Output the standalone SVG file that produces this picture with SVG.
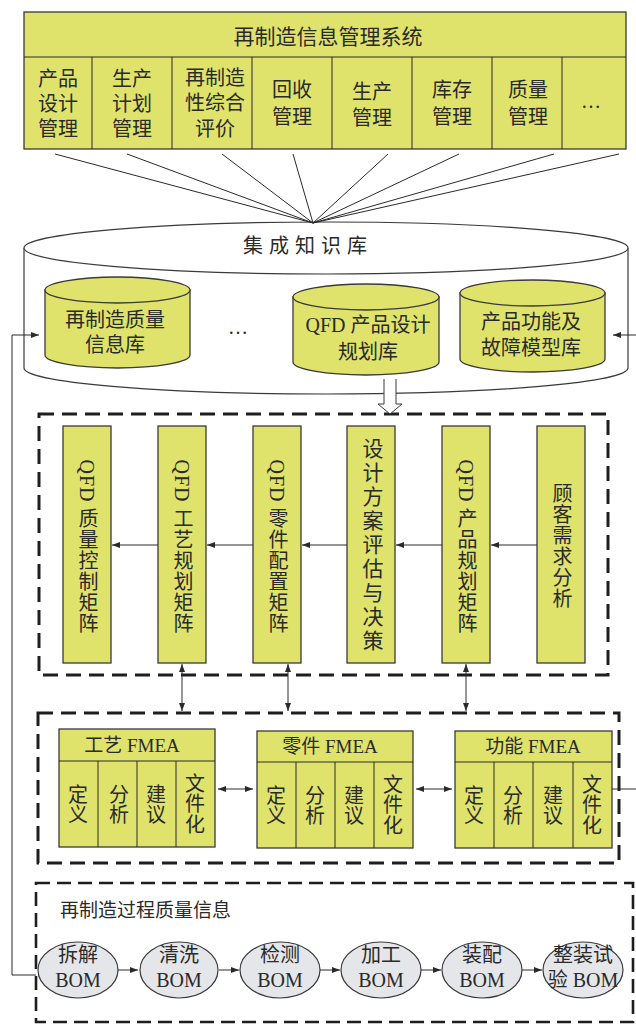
<svg xmlns="http://www.w3.org/2000/svg" width="636" height="1024" viewBox="0 0 636 1024">
<defs>
<style>
.t{font-family:"Liberation Serif","Noto Sans CJK SC",serif;font-size:20px;fill:#2a2a2a;text-anchor:middle}
.s19{font-size:19px}
.s21{font-size:21px}
.st{text-anchor:start}
.y{fill:#dfe36c;stroke:#3a3a3a;stroke-width:1.3}
.ln{stroke:#2a2a2a;stroke-width:1;fill:none}
.dash{fill:none;stroke:#1e1e1e;stroke-width:3;stroke-dasharray:15 8}
.v{writing-mode:vertical-rl}
.ell{fill:#e4e6ea;stroke:#3a3a3a;stroke-width:1.2}
</style>
<marker id="a" viewBox="0 0 8 6" refX="8" refY="3" markerWidth="8" markerHeight="6" markerUnits="userSpaceOnUse" orient="auto-start-reverse"><path d="M0,0 L8,3 L0,6 Z" fill="#2a2a2a"/></marker>
</defs>
<rect width="636" height="1024" fill="#fff"/>

<g id="ims">
<rect x="24" y="12" width="602" height="137" class="y"/>
<line x1="24" y1="57" x2="626" y2="57" class="ln" stroke-width="1.3"/>
<g class="ln"><line x1="92" y1="57" x2="92" y2="149"/><line x1="172" y1="57" x2="172" y2="149"/><line x1="252" y1="57" x2="252" y2="149"/><line x1="332" y1="57" x2="332" y2="149"/><line x1="412" y1="57" x2="412" y2="149"/><line x1="492" y1="57" x2="492" y2="149"/><line x1="562" y1="57" x2="562" y2="149"/></g>
<text class="t s21" x="328" y="44">再制造信息管理系统</text>
<text class="t" x="58" y="86">产品</text><text class="t" x="58" y="111">设计</text><text class="t" x="58" y="136">管理</text>
<text class="t" x="132" y="86">生产</text><text class="t" x="132" y="111">计划</text><text class="t" x="132" y="136">管理</text>
<text class="t" x="215" y="85">再制造</text><text class="t" x="215" y="110">性综合</text><text class="t" x="215" y="136">评价</text>
<text class="t" x="292" y="97">回收</text><text class="t" x="292" y="124">管理</text>
<text class="t" x="372" y="99">生产</text><text class="t" x="372" y="125">管理</text>
<text class="t" x="452" y="97">库存</text><text class="t" x="452" y="124">管理</text>
<text class="t" x="528" y="97">质量</text><text class="t" x="528" y="124">管理</text>
<text class="t" x="591" y="108">…</text>
</g>

<g id="kb">
<path d="M24,248 V368 A302,26 0 0 0 628,368 V248" fill="#fff" stroke="#3a3a3a" stroke-width="1.2"/>
<ellipse cx="326" cy="248" rx="302" ry="26" fill="#fff" stroke="#3a3a3a" stroke-width="1.2"/>
<text class="t" x="308" y="253" letter-spacing="6">集成知识库</text>
<text class="t" x="238" y="334">…</text>
</g>
<g id="db1">
<path d="M45,290 V355 A72.5,13 0 0 0 190,355 V290 Z" class="y"/>
<ellipse cx="117.5" cy="290" rx="72.5" ry="13" class="y"/>
<text class="t" x="115" y="327">再制造质量</text><text class="t" x="115" y="352">信息库</text>
</g>
<g id="db2">
<path d="M293,297 V362 A73,13 0 0 0 439,362 V297 Z" class="y"/>
<ellipse cx="366" cy="297" rx="73" ry="13" class="y"/>
<text class="t" x="368" y="332">QFD 产品设计</text><text class="t" x="368" y="359">规划库</text>
</g>
<g id="db3">
<path d="M460,293 V359 A72.5,13 0 0 0 605,359 V293 Z" class="y"/>
<ellipse cx="532.5" cy="293" rx="72.5" ry="13" class="y"/>
<text class="t" x="531" y="329">产品功能及</text><text class="t" x="531" y="355">故障模型库</text>
</g>

<g id="qfd">
<rect x="39" y="414" width="569" height="261" class="dash"/>
<rect x="63" y="426" width="48" height="237" class="y"/>
<rect x="158" y="426" width="48" height="237" class="y"/>
<rect x="253" y="426" width="48" height="237" class="y"/>
<rect x="347" y="426" width="48" height="237" class="y"/>
<rect x="442" y="426" width="48" height="237" class="y"/>
<rect x="537" y="426" width="48" height="237" class="y"/>
<text class="t v" x="87" y="547" letter-spacing="1">QFD 质量控制矩阵</text>
<text class="t v" x="182" y="547" letter-spacing="1">QFD 工艺规划矩阵</text>
<text class="t v" x="277" y="547" letter-spacing="1">QFD 零件配置矩阵</text>
<text class="t v s21" x="371" y="546" letter-spacing="3">设计方案评估与决策</text>
<text class="t v" x="466" y="547" letter-spacing="1">QFD 产品规划矩阵</text>
<text class="t v" x="561" y="546" letter-spacing="1">顾客需求分析</text>
</g>

<g id="fmea">
<rect x="38" y="713" width="581" height="150" class="dash"/>
<g id="f1">
<rect x="59" y="729" width="156" height="118" class="y"/>
<g class="ln"><line x1="59" y1="761" x2="215" y2="761"/><line x1="98" y1="761" x2="98" y2="847"/><line x1="137" y1="761" x2="137" y2="847"/><line x1="176" y1="761" x2="176" y2="847"/></g>
<text class="t s19" x="132" y="752">工艺 FMEA</text>
<text class="t" x="78" y="802">定</text><text class="t" x="78" y="822">义</text>
<text class="t" x="119" y="802">分</text><text class="t" x="119" y="822">析</text>
<text class="t" x="156" y="802">建</text><text class="t" x="156" y="822">议</text>
<text class="t" x="195" y="791">文</text><text class="t" x="195" y="811">件</text><text class="t" x="195" y="832">化</text>
</g>
<g id="f2">
<rect x="257" y="731" width="156" height="117" class="y"/>
<g class="ln"><line x1="257" y1="762" x2="413" y2="762"/><line x1="296" y1="762" x2="296" y2="848"/><line x1="335" y1="762" x2="335" y2="848"/><line x1="374" y1="762" x2="374" y2="848"/></g>
<text class="t s19" x="330" y="753">零件 FMEA</text>
<text class="t" x="276" y="803">定</text><text class="t" x="276" y="823">义</text>
<text class="t" x="315" y="803">分</text><text class="t" x="315" y="823">析</text>
<text class="t" x="354" y="803">建</text><text class="t" x="354" y="823">议</text>
<text class="t" x="393" y="792">文</text><text class="t" x="393" y="812">件</text><text class="t" x="393" y="833">化</text>
</g>
<g id="f3">
<rect x="455" y="731" width="157" height="117" class="y"/>
<g class="ln"><line x1="455" y1="762" x2="612" y2="762"/><line x1="494" y1="762" x2="494" y2="848"/><line x1="533" y1="762" x2="533" y2="848"/><line x1="573" y1="762" x2="573" y2="848"/></g>
<text class="t s19" x="533" y="753">功能 FMEA</text>
<text class="t" x="474" y="803">定</text><text class="t" x="474" y="823">义</text>
<text class="t" x="513" y="803">分</text><text class="t" x="513" y="823">析</text>
<text class="t" x="553" y="803">建</text><text class="t" x="553" y="823">议</text>
<text class="t" x="592" y="792">文</text><text class="t" x="592" y="812">件</text><text class="t" x="592" y="833">化</text>
</g>
</g>

<g id="bom">
<rect x="36" y="883" width="597" height="139" class="dash" style="stroke-width:2.6;stroke-dasharray:14 7"/>
<text class="t st s19" x="60" y="917">再制造过程质量信息</text>
<g id="b1"><ellipse cx="78" cy="970" rx="40" ry="28" class="ell"/><text class="t" x="78" y="962">拆解</text><text class="t" x="78" y="987">BOM</text></g>
<g id="b2"><ellipse cx="179" cy="970" rx="39" ry="28" class="ell"/><text class="t" x="179" y="962">清洗</text><text class="t" x="179" y="987">BOM</text></g>
<g id="b3"><ellipse cx="280" cy="970" rx="40" ry="28" class="ell"/><text class="t" x="280" y="962">检测</text><text class="t" x="280" y="987">BOM</text></g>
<g id="b4"><ellipse cx="381" cy="970" rx="40" ry="28" class="ell"/><text class="t" x="381" y="962">加工</text><text class="t" x="381" y="987">BOM</text></g>
<g id="b5"><ellipse cx="482" cy="970" rx="40" ry="28" class="ell"/><text class="t" x="482" y="962">装配</text><text class="t" x="482" y="987">BOM</text></g>
<g id="b6"><ellipse cx="583" cy="970" rx="40" ry="28" class="ell"/><text class="t" x="583" y="962">整装试</text><text class="t" x="583" y="987">验 BOM</text></g>
</g>

<g id="connectors" class="ln">
<line x1="55" y1="154" x2="313" y2="223"/><line x1="127" y1="154" x2="313" y2="223"/><line x1="222" y1="154" x2="313" y2="223"/><line x1="293" y1="154" x2="313" y2="223"/><line x1="388" y1="154" x2="313" y2="223"/><line x1="459" y1="154" x2="313" y2="223"/><line x1="554" y1="154" x2="313" y2="223"/><line x1="619" y1="154" x2="313" y2="223"/>
<path d="M384,379 V404 H378 L390,414 L402,404 H396 V379" fill="#fff" stroke="#3a3a3a"/>
<line x1="537" y1="545" x2="491" y2="545" marker-end="url(#a)"/>
<line x1="442" y1="545" x2="396" y2="545" marker-end="url(#a)"/>
<line x1="347" y1="545" x2="302" y2="545" marker-end="url(#a)"/>
<line x1="253" y1="545" x2="207" y2="545" marker-end="url(#a)"/>
<line x1="158" y1="545" x2="112" y2="545" marker-end="url(#a)"/>
<line x1="182" y1="664" x2="182" y2="711" marker-start="url(#a)" marker-end="url(#a)"/>
<line x1="288" y1="664" x2="288" y2="711" marker-start="url(#a)" marker-end="url(#a)"/>
<line x1="466" y1="664" x2="466" y2="711" marker-start="url(#a)" marker-end="url(#a)"/>
<line x1="218" y1="789" x2="253" y2="789" marker-start="url(#a)" marker-end="url(#a)"/>
<line x1="416" y1="789" x2="452" y2="789" marker-start="url(#a)" marker-end="url(#a)"/>
<line x1="118" y1="970" x2="138" y2="970" marker-end="url(#a)"/>
<line x1="219" y1="970" x2="239" y2="970" marker-end="url(#a)"/>
<line x1="320" y1="970" x2="340" y2="970" marker-end="url(#a)"/>
<line x1="421" y1="970" x2="441" y2="970" marker-end="url(#a)"/>
<line x1="522" y1="970" x2="542" y2="970" marker-end="url(#a)"/>
<path d="M36,975 H12 V335 H39" marker-end="url(#a)"/>
<path d="M612,789 H637 V335 H613" marker-end="url(#a)"/>
</g>
</svg>
